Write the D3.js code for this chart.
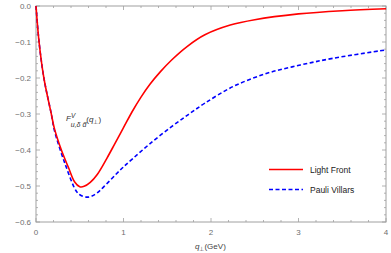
<!DOCTYPE html>
<html>
<head>
<meta charset="utf-8">
<script src="https://cdn.jsdelivr.net/npm/d3@7"></script>
<style>
  body { margin: 0; background: #fff; }
  svg { display: block; font-family: "Liberation Sans", Arial, sans-serif; }
</style>
</head>
<body>
<svg id="chart" width="391" height="253"></svg>
<script>
// Light Front curve (q_perp in GeV, form factor)
const lfQ = [0, 0.035, 0.09, 0.175, 0.21, 0.29, 0.37, 0.44, 0.5, 0.55, 0.62, 0.7, 0.81, 0.9, 1.0, 1.1, 1.2, 1.3, 1.42, 1.55, 1.73, 1.93, 2.22, 2.5, 3.0, 3.5, 4.0];
const lfF = [0, -0.1, -0.2, -0.3, -0.34, -0.40, -0.448, -0.488, -0.502, -0.501, -0.49, -0.468, -0.423, -0.383, -0.338, -0.293, -0.253, -0.218, -0.183, -0.15, -0.112, -0.08, -0.053, -0.038, -0.022, -0.013, -0.0075];

// Pauli Villars curve
const pvQ = [0, 0.035, 0.09, 0.175, 0.21, 0.33, 0.465, 0.52, 0.58, 0.64, 0.71, 0.8, 0.92, 1.0, 1.11, 1.3, 1.55, 1.75, 1.93, 2.25, 2.64, 3.02, 3.4, 4.0];
const pvF = [0, -0.1, -0.2, -0.3, -0.345, -0.437, -0.516, -0.527, -0.531, -0.528, -0.517, -0.496, -0.466, -0.447, -0.423, -0.383, -0.335, -0.300, -0.270, -0.224, -0.187, -0.164, -0.145, -0.122];

const xTicks = [0, 1, 2, 3, 4];
const yTicks = [0, -0.1, -0.2, -0.3, -0.4, -0.5, -0.6];
const legendNames = ["Light Front", "Pauli Villars"];

const svg = d3.select("#chart");
const m = { left: 36, right: 386, top: 6, bottom: 222 };
const frameCol = "#a0a0a0", labelCol = "#6e6e6e";

const x = d3.scaleLinear().domain([0, 4]).range([m.left, m.right]);
const y = d3.scaleLinear().domain([-0.6, 0]).range([m.bottom, m.top]);

// frame
svg.append("rect")
    .attr("x", m.left).attr("y", m.top)
    .attr("width", m.right - m.left).attr("height", m.bottom - m.top)
    .attr("fill", "none").attr("stroke", frameCol).attr("stroke-width", 1);

// ticks (inward, all four sides)
const xMinor = d3.range(0, 4.001, 0.2);
const yMinor = d3.range(-0.6, 0.001, 0.02);
const tk = svg.append("g").attr("stroke", frameCol).attr("stroke-width", 0.8);
xMinor.forEach(v => {
    const major = Math.abs(v - Math.round(v)) < 1e-6;
    const len = major ? 4 : 2;
    tk.append("line").attr("x1", x(v)).attr("x2", x(v)).attr("y1", m.bottom).attr("y2", m.bottom - len);
    tk.append("line").attr("x1", x(v)).attr("x2", x(v)).attr("y1", m.top).attr("y2", m.top + len);
});
yMinor.forEach(v => {
    const major = Math.abs(v * 10 - Math.round(v * 10)) < 1e-6;
    const len = major ? 4 : 2;
    tk.append("line").attr("x1", m.left).attr("x2", m.left + len).attr("y1", y(v)).attr("y2", y(v));
    tk.append("line").attr("x1", m.right).attr("x2", m.right - len).attr("y1", y(v)).attr("y2", y(v));
});

// tick labels
svg.append("g").selectAll("text").data(xTicks).enter().append("text")
    .attr("x", d => x(d)).attr("y", 235)
    .attr("text-anchor", "middle").attr("font-size", 8).attr("fill", labelCol)
    .text(d => d);
svg.append("g").selectAll("text").data(yTicks).enter().append("text")
    .attr("x", 31).attr("y", d => y(d) + 3)
    .attr("text-anchor", "end").attr("font-size", 8).attr("fill", labelCol)
    .text(d => d === 0 ? "0.0" : "\u2212" + Math.abs(d).toFixed(1));

// x axis title
const xt = svg.append("text").attr("x", 195).attr("y", 249)
    .attr("font-size", 8).attr("fill", "#444");
xt.append("tspan").attr("font-style", "italic").text("q");
xt.append("tspan").attr("dy", 2).attr("font-size", 6).text("\u22a5");
xt.append("tspan").attr("dy", -2).text("(GeV)");

// curves
const line = d3.line().x(d => x(d[0])).y(d => y(d[1])).curve(d3.curveCatmullRom.alpha(0.5));
const lfData = lfQ.map((q, i) => [q, lfF[i]]);
const pvData = pvQ.map((q, i) => [q, pvF[i]]);
const plot = svg.append("g");
plot.append("path").datum(pvData).attr("d", line)
    .attr("fill", "none").attr("stroke", "#0000ff").attr("stroke-width", 1.6)
    .attr("stroke-dasharray", "4,2.5");
plot.append("path").datum(lfData).attr("d", line)
    .attr("fill", "none").attr("stroke", "#ff0000").attr("stroke-width", 1.6);

// in-plot label F^V_{u,δ d̄}(q⊥)
const lab = svg.append("text").attr("x", 66).attr("y", 121)
    .attr("font-size", 8).attr("fill", "#333");
lab.append("tspan").attr("font-style", "italic").text("F");
lab.append("tspan").attr("dy", -3).attr("font-size", 6.5).attr("font-style", "italic").text("V");
lab.append("tspan").attr("dx", -4.5).attr("dy", 9).attr("font-size", 7).attr("font-style", "italic").text("u,\u03b4 d\u0304");
lab.append("tspan").attr("dy", -5).text("(");
lab.append("tspan").attr("font-style", "italic").text("q");
lab.append("tspan").attr("dy", 1.5).attr("font-size", 6).text("\u22a5");
lab.append("tspan").attr("dy", -1.5).text(")");

// legend
const leg = svg.append("g");
const legStyles = [{ col: "#ff0000", dash: null }, { col: "#0000ff", dash: "4,2.5" }];
legendNames.forEach((name, i) => {
    const ly = 169.5 + i * 20;
    leg.append("line").attr("x1", 269).attr("x2", 303).attr("y1", ly).attr("y2", ly)
        .attr("stroke", legStyles[i].col).attr("stroke-width", 1.6)
        .attr("stroke-dasharray", legStyles[i].dash);
    leg.append("text").attr("x", 310).attr("y", ly + 3).attr("font-size", 8.5).attr("fill", "#222")
        .text(name);
});
</script>
</body>
</html>
